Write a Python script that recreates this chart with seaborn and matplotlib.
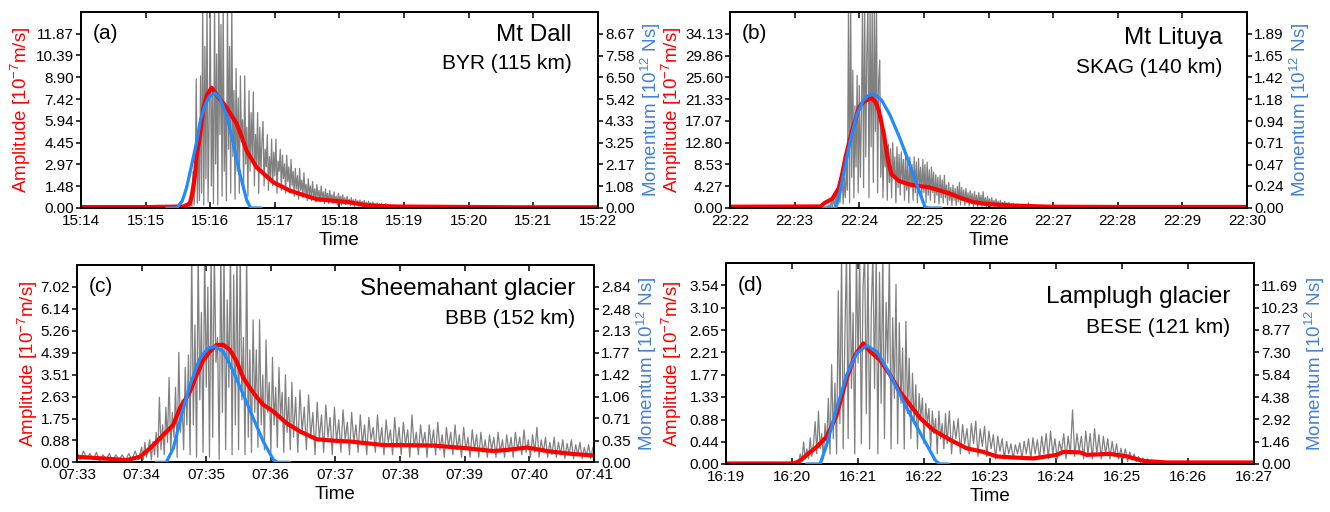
import numpy as np
import pandas as pd
import matplotlib
matplotlib.use("Agg")
import matplotlib.pyplot as plt
import matplotlib.dates as mdates
import seaborn as sns

# ---------------- data (times in seconds after the first tick) ----------------
# Panel (a) Mt Dall, BYR
ticks_a = ["15:14", "15:15", "15:16", "15:17", "15:18", "15:19", "15:20", "15:21", "15:22"]
amp_ticks_a = ["0.00", "1.48", "2.97", "4.45", "5.94", "7.42", "8.90", "10.39", "11.87"]
mom_ticks_a = ["0.00", "1.08", "2.17", "3.25", "4.33", "5.42", "6.50", "7.58", "8.67"]
gray_a_start, gray_a_step = 100, 1
gray_a = [0.3, 0.05, 0.6, 0.1, 2.5, 0.2, 1.5, 8.8, 0.3, 5.0,
          0.5, 9.0, 1.0, 14, 0.2, 11, 2.0, 14, 0.4, 6.0,
          14, 1.5, 8.0, 0.3, 14, 3.0, 10.5, 0.2, 14, 5.0,
          12.5, 0.8, 14, 2.5, 7.0, 0.5, 14, 4.0, 11, 1.0,
          14, 3.5, 8.0, 0.6, 9.5, 2.5, 7.5, 1.0, 9.0, 4.5,
          6.0, 1.5, 9.0, 3.0, 5.5, 0.8, 8.0, 2.5, 6.5, 3.5,
          7.9, 1.5, 5.0, 3.0, 6.5, 1.0, 5.5, 2.5, 4.5, 5.9,
          1.5, 4.0, 2.8, 5.0, 1.2, 3.5, 2.0, 4.7, 1.5, 3.8,
          2.2, 4.7, 1.0, 3.2, 2.5, 4.0, 1.2, 3.6, 2.0, 3.0,
          1.0, 3.6, 1.8, 2.8, 1.0, 3.3, 1.5, 2.5, 0.8, 2.7,
          1.3, 2.2, 0.6, 2.7, 1.2, 1.9, 0.7, 2.4, 1.0, 1.6,
          0.5, 2.0, 0.9, 1.5, 0.5, 1.8, 0.8, 1.3, 0.4, 1.6,
          0.7, 1.2, 0.4, 1.5, 0.6, 1.1, 0.3, 1.3, 0.6, 1.0,
          0.3, 1.2, 0.5, 0.9, 0.3, 1.1, 0.4, 0.8, 0.2, 1.0,
          0.4, 0.8, 0.2, 0.9, 0.3, 0.7, 0.2, 0.8, 0.3, 0.6,
          0.15, 0.7, 0.25, 0.55, 0.1, 0.6, 0.2, 0.5, 0.1, 0.55,
          0.2, 0.45, 0.1, 0.52, 0.15, 0.4, 0.1, 0.45, 0.15, 0.35,
          0.08, 0.4, 0.12, 0.3, 0.08, 0.35, 0.1, 0.28, 0.06, 0.3,
          0.1, 0.25, 0.05, 0.3, 0.08, 0.22, 0.05, 0.25, 0.06, 0.2,
          0.04, 0.2, 0.06, 0.15, 0.04, 0.18, 0.05, 0.14, 0.04, 0.12]
red_t_a = [0, 60, 95, 101, 103, 105.8, 107.4, 110.5, 113.6, 117, 121.3, 127, 135, 144.6, 149,
           153.8, 163, 178.6, 194, 218.8, 240, 250, 265, 290, 400, 480]
red_v_a = [0.06, 0.06, 0.1, 0.3, 0.9, 2.2, 3.6, 4.95, 6.77, 7.7, 8.19, 7.6, 6.86, 5.73, 4.9,
           3.9, 2.77, 1.75, 1.18, 0.6, 0.45, 0.38, 0.18, 0.1, 0.05, 0.05]
blue_t_a = [79.5, 89, 94, 98, 103, 107.4, 111, 114.5, 119, 124.4, 129, 135.3, 141, 147.6,
            153.8, 157.5, 167]
blue_v_a = [0, 0, 0.35, 1.0, 2.2, 3.3, 4.4, 5.0, 5.55, 5.72, 5.45, 4.6, 3.3, 1.69, 0.4, 0, 0]

# Panel (b) Mt Lituya, SKAG
ticks_b = ["22:22", "22:23", "22:24", "22:25", "22:26", "22:27", "22:28", "22:29", "22:30"]
amp_ticks_b = ["0.00", "4.27", "8.53", "12.80", "17.07", "21.33", "25.60", "29.86", "34.13"]
mom_ticks_b = ["0.00", "0.24", "0.47", "0.71", "0.94", "1.18", "1.42", "1.65", "1.89"]
gray_b_start, gray_b_step = 90, 1
gray_b = [0.4, 0.1, 0.6, 0.2, 1.2, 0.3, 2.0, 0.5, 1.5, 3.0,
          0.5, 5.0, 1.0, 3.5, 7.7, 0.8, 6.0, 2.0, 8.5, 3.5,
          40, 1.0, 40, 6.0, 27, 2.0, 20, 8.0, 26, 3.0,
          24, 6.0, 18, 40, 4.0, 40, 10, 30, 40, 2.0,
          40, 12, 40, 5.0, 40, 15, 40, 3.0, 25, 29,
          6.0, 18, 2.0, 15, 8.0, 13, 1.5, 12.5, 5.0, 11.6,
          2.0, 12.8, 6.0, 10, 1.0, 12, 4.0, 10.5, 2.5, 11,
          5.0, 9.5, 1.5, 10.5, 3.5, 9.0, 1.0, 10, 4.0, 8.5,
          1.5, 10, 3.0, 9.0, 1.0, 9.7, 4.0, 8.0, 2.0, 9.5,
          3.0, 8.5, 1.0, 9.0, 2.5, 7.5, 1.5, 8.0, 3.0, 7.0,
          1.0, 6.5, 2.5, 6.0, 0.8, 6.4, 2.0, 5.5, 1.0, 6.4,
          2.0, 4.5, 0.6, 5.0, 1.5, 4.0, 0.5, 4.5, 1.5, 3.8,
          0.5, 4.2, 1.2, 5.0, 0.6, 4.0, 1.5, 3.5, 0.5, 3.8,
          1.0, 3.0, 0.4, 3.4, 1.0, 2.8, 0.3, 3.2, 0.8, 2.5,
          0.3, 3.0, 0.6, 2.5, 0.3, 3.2, 0.5, 2.0, 0.2, 2.3,
          0.5, 1.8, 0.2, 2.0, 0.4, 1.5, 0.2, 1.8, 0.3, 1.3,
          0.15, 1.5, 0.3, 1.1, 0.1, 1.3, 0.25, 1.0, 0.1, 1.1,
          0.2, 0.8, 0.1, 0.9, 0.2, 0.7, 0.1, 0.8, 0.15, 0.6,
          0.1, 0.7, 0.15, 0.5, 0.1, 0.6, 0.1, 1.0, 0.1, 0.5,
          0.1, 0.45, 0.05, 0.5, 0.1, 0.4, 0.05, 0.45, 0.1, 0.35,
          0.05, 0.4, 0.1, 0.3, 0.05, 0.35, 0.05, 0.3, 0.05, 0.3]
red_t_b = [0, 84, 88, 95, 101, 104, 107.2, 110.5, 113.3, 116.7, 119.5, 122.5, 125.7, 128.5,
           131.9, 135, 138.1, 140.5, 142.8, 145, 147.4, 150, 156.9, 165, 172.4, 184.7, 192,
           204.3, 215, 225.9, 236, 247.6, 265, 297, 360, 480]
red_v_b = [0.25, 0.3, 1.0, 1.8, 3.9, 6.5, 9.9, 12.8, 15.2, 17.5, 19.6, 20.5, 21.0, 21.3,
           21.5, 20.8, 19.1, 16.8, 14.5, 11.5, 8.6, 6.6, 5.3, 4.7, 4.4, 4.05, 3.6,
           2.8, 1.9, 1.15, 0.85, 0.65, 0.45, 0.25, 0.2, 0.2]
blue_t_b = [87, 98, 101, 105.2, 111.4, 117.6, 123.8, 128, 132, 136.5, 140.8, 148.6, 157.8,
            167.1, 174.8, 181, 185, 196]
blue_v_b = [0, 0, 0.12, 0.354, 0.717, 1.006, 1.169, 1.215, 1.235, 1.215, 1.169, 1.006, 0.753,
            0.463, 0.21, 0.01, 0, 0]

# Panel (c) Sheemahant glacier, BBB
ticks_c = ["07:33", "07:34", "07:35", "07:36", "07:37", "07:38", "07:39", "07:40", "07:41"]
amp_ticks_c = ["0.00", "0.88", "1.75", "2.63", "3.51", "4.39", "5.26", "6.14", "7.02"]
mom_ticks_c = ["0.00", "0.35", "0.71", "1.06", "1.42", "1.77", "2.13", "2.48", "2.84"]
gray_c1_start, gray_c1_step = 0, 3
gray_c1 = [0.4, 0.1, 0.45, 0.15, 0.35, 0.1, 0.4, 0.05, 0.3, 0.1,
           0.35, 0.05, 0.3, 0.1, 0.3, 0.05, 0.35, 0.1, 0.45, 0.1]
gray_c2_start, gray_c2_step = 60, 1.5
gray_c2 = [0.6, 0.1, 0.8, 0.2, 0.5, 0.9, 0.1, 0.83, 0.3, 1.2,
           0.2, 2.6, 0.5, 1.5, 0.3, 2.2, 0.8, 3.4, 0.4, 2.0,
           1.0, 3.0, 0.2, 4.4, 1.2, 2.5, 0.5, 3.8, 1.5, 4.3,
           0.3, 8.5, 1.5, 5.5, 0.2, 8.5, 2.5, 6.0, 0.4, 8.5,
           3.0, 7.0, 0.2, 8.5, 1.0, 8.5, 4.0, 5.0, 0.1, 8.5,
           2.0, 8.5, 0.5, 6.5, 3.0, 8.5, 0.3, 7.5, 1.5, 8.5,
           0.5, 8.5, 2.5, 5.0, 0.3, 8.5, 1.0, 4.5, 0.4, 5.7,
           2.0, 4.5, 0.6, 5.7, 1.5, 3.5, 0.5, 4.9, 2.0, 3.2,
           0.4, 4.2, 1.5, 3.0, 0.6, 3.8, 1.8, 2.8, 0.4, 3.5,
           1.2, 2.6, 0.5, 3.2]
gray_c3_start, gray_c3_step = 201, 2
gray_c3 = [1.0, 2.6, 0.4, 2.9, 1.2, 2.2, 0.5, 2.7, 1.0, 2.0,
           0.3, 2.4, 0.9, 1.9, 0.4, 2.3, 1.0, 1.8, 0.3, 2.2,
           0.8, 1.7, 0.4, 2.1, 0.9, 1.6, 0.3, 2.0, 0.8, 1.5,
           0.4, 1.9, 0.7, 1.5, 0.3, 1.8, 0.9, 1.4, 0.4, 1.9,
           0.7, 1.4, 0.3, 1.7, 0.8, 1.3, 0.3, 1.8, 0.6, 1.4,
           0.3, 1.6, 0.7, 1.3, 0.2, 1.9, 0.6, 1.2, 0.3, 1.5,
           0.7, 1.2, 0.2, 1.5, 0.6, 1.3, 0.3, 1.6, 0.5, 1.1,
           0.2, 1.4, 0.6, 1.2, 0.3, 1.5, 0.5, 1.1, 0.2, 1.4,
           0.5, 1.0, 0.2, 1.3, 0.5, 1.1, 0.2, 1.2, 0.4, 0.9,
           0.2, 1.1, 0.5, 1.0, 0.2, 1.2, 0.4, 0.9, 0.2, 1.1,
           0.4, 1.0, 0.2, 1.2, 0.5, 1.0, 0.3, 1.3, 0.4, 0.9,
           0.2, 1.1, 0.4, 1.4, 0.2, 0.9, 0.4, 1.0, 0.2, 0.8,
           0.3, 1.0, 0.2, 0.8, 0.3, 0.9, 0.15, 0.75, 0.3, 0.9,
           0.15, 0.7, 0.3, 0.8, 0.15, 0.6, 0.25, 0.7, 0.15, 0.6]
red_t_c = [0, 21.4, 46.2, 58.5, 67.8, 77, 89.4, 95.6, 104.9, 111.1, 117.3, 123.5, 129.7, 135.9,
           142, 148.3, 154.5, 160.7, 167, 173.1, 182.4, 194.8, 207.2, 222.8, 240, 253.8, 284.7,
           300, 331, 362, 386.8, 400, 417.8, 439.4, 461, 480]
red_v_c = [0.22, 0.16, 0.09, 0.22, 0.56, 0.96, 1.5, 2.17, 2.83, 3.5, 4.1, 4.44, 4.7, 4.7,
           4.5, 4.03, 3.37, 2.97, 2.6, 2.3, 2.03, 1.56, 1.23, 0.92, 0.86, 0.83, 0.69,
           0.69, 0.67, 0.56, 0.45, 0.5, 0.59, 0.43, 0.33, 0.27]
blue_t_c = [73.6, 82.9, 89.4, 97.1, 104.9, 114.2, 121.9, 128.1, 135.9, 145.2, 154.5, 163.8,
            173.1, 182.4, 186, 197.8]
blue_v_c = [0, 0, 0.227, 0.767, 1.25, 1.686, 1.85, 1.874, 1.79, 1.47, 1.09, 0.71, 0.33, 0.04,
            0, 0]

# Panel (d) Lamplugh glacier, BESE
ticks_d = ["16:19", "16:20", "16:21", "16:22", "16:23", "16:24", "16:25", "16:26", "16:27"]
amp_ticks_d = ["0.00", "0.44", "0.88", "1.33", "1.77", "2.21", "2.65", "3.10", "3.54"]
mom_ticks_d = ["0.00", "1.46", "2.92", "4.38", "5.84", "7.30", "8.77", "10.23", "11.69"]
gray_d1_start, gray_d1_step = 66, 1.5
gray_d1 = [0.05, 0.2, 0.05, 0.44, 0.1, 0.3, 0.1, 0.52, 0.15, 0.4,
           0.84, 0.2, 1.05, 0.3, 0.6, 0.1, 0.8, 0.4, 1.3, 0.2,
           1.97, 0.5, 1.6, 0.2, 3.43, 0.8, 4.2, 0.3, 2.5, 4.2,
           0.5, 4.2, 1.5, 3.0, 0.2, 4.2, 2.0, 4.2, 0.4, 3.5,
           4.2, 1.0, 4.2, 0.3, 3.0, 4.2, 1.5, 4.2, 0.2, 3.8,
           1.2, 4.2, 0.5, 3.2, 2.0, 4.2, 0.3, 2.9, 1.3, 3.56,
           0.4, 2.8, 1.2, 2.3, 0.3, 2.83, 1.0, 2.1, 0.5, 1.8,
           0.8, 1.57, 0.3, 1.4, 0.9, 1.31, 0.4, 1.2, 0.8, 1.1,
           0.3, 1.05, 0.6, 0.9, 0.2, 1.05, 0.5, 0.8, 0.3, 1.0]
gray_d2_start, gray_d2_step = 201, 2
gray_d2 = [0.4, 1.05, 0.2, 0.85, 0.5, 0.9, 0.2, 0.78, 0.4, 0.7,
           0.2, 0.8, 0.4, 0.85, 0.15, 0.7, 0.35, 0.75, 0.15, 0.65,
           0.3, 0.58, 0.1, 0.55, 0.25, 0.5, 0.1, 0.45, 0.2, 0.4,
           0.1, 0.38, 0.2, 0.42, 0.1, 0.45, 0.2, 0.5, 0.1, 0.52,
           0.2, 0.48, 0.1, 0.55, 0.2, 0.6, 0.1, 0.65, 0.2, 0.5,
           0.1, 0.45, 0.25, 0.6, 0.1, 0.55, 0.2, 1.07, 0.15, 0.6,
           0.25, 0.55, 0.1, 0.65, 0.2, 0.6, 0.1, 0.7, 0.2, 0.58,
           0.1, 0.55, 0.2, 0.5, 0.1, 0.45, 0.15, 0.4, 0.1, 0.31,
           0.1, 0.3, 0.05, 0.24, 0.08, 0.2, 0.05, 0.15, 0.04, 0.12,
           0.03, 0.1, 0.03, 0.08, 0.02, 0.07, 0.02, 0.06, 0.02, 0.05]
red_t_d = [0, 61.2, 67, 73.4, 82.5, 91.5, 100.6, 109.7, 117.3, 124.8, 130.9, 140, 149, 158.2,
           167.3, 176.4, 188.5, 203.6, 218.8, 233.9, 246, 260, 279.4, 300.6, 306.6, 321.8,
           327.9, 349, 364.3, 379.4, 400.6, 480]
red_v_d = [0.01, 0.01, 0.06, 0.18, 0.34, 0.54, 0.97, 1.7, 2.16, 2.39, 2.23, 2.06, 1.77, 1.43,
           1.17, 0.91, 0.67, 0.48, 0.31, 0.24, 0.15, 0.13, 0.11, 0.18, 0.24, 0.23, 0.18, 0.2,
           0.15, 0.06, 0.03, 0.03]
blue_t_d = [73.4, 85.5, 91.5, 100.6, 109.7, 118.8, 127.9, 137, 146, 155.2, 164.3, 173.4, 182.5,
            190, 194, 202]
blue_v_d = [0, 0, 1.25, 3.65, 5.83, 7.25, 7.75, 7.36, 6.27, 4.96, 3.65, 2.44, 1.25, 0.26, 0, 0]

panel_tags = ["(a)", "(b)", "(c)", "(d)"]
event_names = ["Mt Dall", "Mt Lituya", "Sheemahant glacier", "Lamplugh glacier"]
station_names = ["BYR (115 km)", "SKAG (140 km)", "BBB (152 km)", "BESE (121 km)"]

# ---------------- style ----------------
sns.set_style("ticks")
plt.rcParams["font.family"] = ["Liberation Sans", "DejaVu Sans"]
plt.rcParams["mathtext.fontset"] = "custom"
plt.rcParams["mathtext.rm"] = "Liberation Sans"
plt.rcParams["mathtext.it"] = "Liberation Sans:italic"
plt.rcParams["mathtext.bf"] = "Liberation Sans:bold"
for key in ("text.color", "axes.labelcolor", "xtick.color", "ytick.color", "axes.edgecolor"):
    plt.rcParams[key] = "black"

GRAY = "#808080"
RED = "#ff0000"
BLUE = "#1e8bff"
MOM_LABEL = "#4480d8"

fig = plt.figure(figsize=(13.3, 5.12), dpi=100)

panels = [
    dict(rect=[0.0609, 0.5938, 0.3887, 0.3828], ticks=ticks_a, amp=amp_ticks_a, mom=mom_ticks_a,
         gray=[(gray_a_start, gray_a_step, gray_a)],
         rt=red_t_a, rv=red_v_a, bt=blue_t_a, bv=blue_v_a,
         name_y=0.885, sta_y=0.735, tag_y=0.89, name_x=0.949, amp_pad=2),
    dict(rect=[0.5489, 0.5938, 0.3887, 0.3828], ticks=ticks_b, amp=amp_ticks_b, mom=mom_ticks_b,
         gray=[(gray_b_start, gray_b_step, gray_b)],
         rt=red_t_b, rv=red_v_b, bt=blue_t_b, bv=blue_v_b,
         name_y=0.865, sta_y=0.715, tag_y=0.89, name_x=0.953, amp_pad=0.5),
    dict(rect=[0.0579, 0.0971, 0.3887, 0.3853], ticks=ticks_c, amp=amp_ticks_c, mom=mom_ticks_c,
         gray=[(gray_c1_start, gray_c1_step, gray_c1), (gray_c2_start, gray_c2_step, gray_c2),
               (gray_c3_start, gray_c3_step, gray_c3)],
         rt=red_t_c, rv=red_v_c, bt=blue_t_c, bv=blue_v_c,
         name_y=0.88, sta_y=0.73, tag_y=0.89, name_x=0.963, amp_pad=0.5),
    dict(rect=[0.5459, 0.0938, 0.3970, 0.3925], ticks=ticks_d, amp=amp_ticks_d, mom=mom_ticks_d,
         gray=[(gray_d1_start, gray_d1_step, gray_d1), (gray_d2_start, gray_d2_step, gray_d2)],
         rt=red_t_d, rv=red_v_d, bt=blue_t_d, bv=blue_v_d,
         name_y=0.83, sta_y=0.68, tag_y=0.887, name_x=0.955, amp_pad=4),
]

for i, p in enumerate(panels):
    ax = fig.add_axes(p["rect"])
    base = pd.Timestamp("2000-01-01 " + p["ticks"][0])

    def tt(sec, base=base):
        return base + pd.to_timedelta(np.asarray(sec, dtype=float), unit="s")

    g_t = np.concatenate([s0 + ds * np.arange(len(v)) for s0, ds, v in p["gray"]])
    g_v = np.concatenate([np.asarray(v, dtype=float) for _, _, v in p["gray"]])
    sns.lineplot(x=tt(g_t), y=g_v, ax=ax, color=GRAY, linewidth=0.9,
                 estimator=None, sort=False, zorder=1)
    sns.lineplot(x=tt(p["rt"]), y=p["rv"], ax=ax, color=RED, linewidth=3.0,
                 estimator=None, sort=False, zorder=2)

    ax2 = ax.twinx()
    sns.lineplot(x=tt(p["bt"]), y=p["bv"], ax=ax2, color=BLUE, linewidth=2.3,
                 estimator=None, sort=False, zorder=3)

    xt = [mdates.date2num(pd.Timestamp("2000-01-01 " + s)) for s in p["ticks"]]
    ax.set_xlim(xt[0], xt[-1])
    ax.set_xticks(xt)
    ax.set_xticklabels(p["ticks"], fontsize=11)

    amp_vals = [float(s) for s in p["amp"]]
    mom_vals = [float(s) for s in p["mom"]]
    ax.set_ylim(0, amp_vals[-1] * 9 / 8)
    ax.set_yticks(amp_vals)
    ax.set_yticklabels(p["amp"], fontsize=11)
    ax2.set_ylim(0, mom_vals[-1] * 9 / 8)
    ax2.set_yticks(mom_vals)
    ax2.set_yticklabels(p["mom"], fontsize=11)

    ax.tick_params(axis="x", direction="in", top=True, bottom=True, length=4, width=1.1,
                   pad=4, colors="black")
    ax.tick_params(axis="y", direction="out", left=True, right=False, length=3.5, width=1.1,
                   pad=1.5, colors="black")
    ax2.tick_params(axis="y", direction="out", right=True, left=False, length=3.5, width=1.1,
                    pad=1.5, colors="black")

    for a in (ax, ax2):
        for sp in a.spines.values():
            sp.set_visible(True)
            sp.set_linewidth(1.3)
            sp.set_color("black")

    ax.set_xlabel("Time", fontsize=13.5, labelpad=3)
    ax.set_ylabel("Amplitude [10$^{-7}$m/s]", color=RED, fontsize=13.5, labelpad=p["amp_pad"])
    ax2.set_ylabel("Momentum [10$^{12}$ Ns]", color=MOM_LABEL, fontsize=13.5, labelpad=3)

    ax.text(0.022, p["tag_y"], panel_tags[i], transform=ax.transAxes, ha="left", va="center",
            fontsize=15)
    ax.text(p["name_x"], p["name_y"], event_names[i], transform=ax.transAxes, ha="right",
            va="center", fontsize=17.5)
    ax.text(p["name_x"], p["sta_y"], station_names[i], transform=ax.transAxes, ha="right",
            va="center", fontsize=15)

fig.savefig("out.png", dpi=100)
